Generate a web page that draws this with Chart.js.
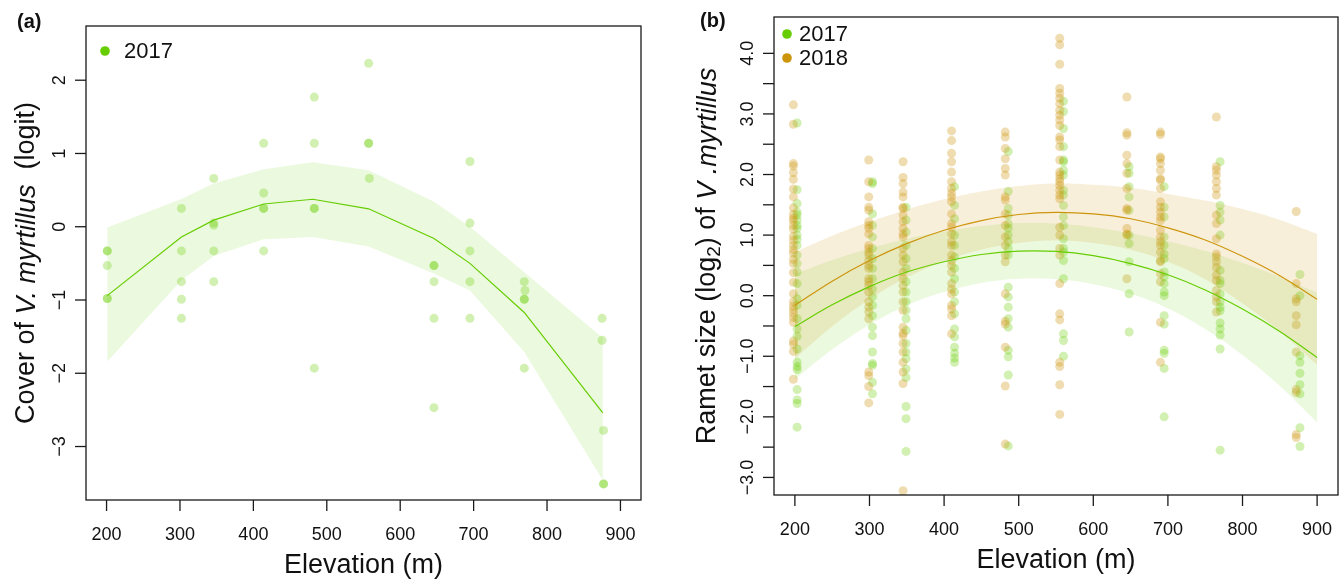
<!DOCTYPE html>
<html>
<head>
<meta charset="utf-8">
<script src="https://cdn.jsdelivr.net/npm/chart.js@4.4.1/dist/chart.umd.min.js"></script>
<style>
  html, body { margin: 0; padding: 0; background: #fff; }
  #wrap { position: relative; width: 1344px; height: 581px; }
  canvas { position: absolute; top: 0; }
</style>
</head>
<body>
<div id="wrap">
  <canvas id="chartA" width="672" height="581" style="left:0"></canvas>
  <canvas id="chartB" width="672" height="581" style="left:672px"></canvas>
</div>
<script>
const GREEN = '#66CD00';
const GOLD = '#CD950C';
const FONT = '"Liberation Sans", Arial, Helvetica, sans-serif';

const elevTicks = [200, 300, 400, 500, 600, 700, 800, 900];

// ---- panel (a): cover, 2017 ----
const coverX = [201, 201, 201, 201, 201,
                302, 302, 302, 302, 302,
                346, 346, 346, 346, 346,
                414, 414, 414, 414, 414,
                483, 483, 483, 483, 483,
                557, 557, 557, 558,
                646, 646, 646, 646, 646,
                695, 695, 695, 695, 695,
                769, 770, 769, 769, 769,
                875, 875, 877, 877, 877];
const coverY = [-0.33, -0.33, -0.53, -0.98, -0.98,
                0.25, -0.33, -0.75, -0.99, -1.25,
                0.66, 0.05, 0.02, -0.33, -0.75,
                1.14, 0.46, 0.25, 0.25, -0.33,
                1.77, 1.14, 0.25, 0.25, -1.93,
                2.23, 1.14, 1.14, 0.66,
                -0.53, -0.53, -0.75, -1.25, -2.47,
                0.89, 0.05, -0.33, -0.75, -1.25,
                -0.75, -0.87, -0.99, -0.99, -1.93,
                -1.25, -1.55, -2.78, -3.51, -3.51];
const fitElev = [201, 302, 346, 414, 481, 557, 646, 695, 769, 876];
const fitCover = [-0.94, -0.14, 0.09, 0.31, 0.375, 0.245, -0.16, -0.50, -1.17, -2.54];
const fitUpper = [-0.01, 0.38, 0.59, 0.785, 0.88, 0.77, 0.34, 0.0, -0.62, -1.52];
const fitLower = [-1.84, -0.73, -0.40, -0.17, -0.14, -0.27, -0.64, -0.87, -1.71, -3.46];
const coverTicks = [-3, -2, -1, 0, 1, 2];

// ---- panel (b): ramet size, 2017 and 2018 ----
const x2017 = [203, 304, 349, 414, 486, 560, 648, 695, 770, 877];
const x2018 = [198, 299, 345, 410, 482, 555, 645, 690, 765, 872];
const ramet2017 = [
  [2.85, 1.75, 1.52, 1.38, 1.33, 1.25, 1.16, 1.11, 1.0, 0.93, 0.83, 0.67, 0.53, 0.39, 0.2, -0.05, -0.16, -0.38, -0.55, -0.67, -0.88, -1.1, -1.17, -1.22, -1.55, -1.72, -1.78, -2.17],
  [1.88, 1.85, 1.35, 1.16, 0.97, 0.78, 0.61, 0.45, 0.28, 0.11, -0.02, -0.16, -0.33, -0.52, -0.66, -0.93, -1.12, -1.15, -1.43, -1.62],
  [1.46, 1.25, 1.05, 0.83, 0.61, 0.45, 0.23, 0.06, -0.1, -0.24, -0.38, -0.57, -0.79, -0.93, -1.04, -1.21, -1.35, -1.83, -2.03, -2.57],
  [1.8, 1.49, 1.27, 1.0, 0.83, 0.64, 0.45, 0.28, 0.06, -0.1, -0.3, -0.55, -0.68, -0.85, -0.95, -1.03, -1.1],
  [2.38, 1.72, 1.44, 1.33, 1.19, 1.11, 1.0, 0.89, 0.78, 0.67, 0.14, -0.02, -0.19, -0.38, -0.52, -0.9, -1.01, -1.31, -2.48],
  [3.21, 3.04, 2.76, 2.46, 2.24, 2.21, 2.07, 1.99, 1.74, 1.66, 1.49, 1.3, 1.16, 0.94, 0.78, 0.72, 0.58, 0.28, -0.63, -0.74, -1.0],
  [2.13, 2.02, 1.8, 1.63, 1.41, 1.0, 0.86, 0.56, 0.03, -0.6],
  [1.8, 1.46, 1.3, 0.97, 0.83, 0.69, 0.61, 0.39, 0.31, 0.2, 0.06, 0.0, -0.33, -0.47, -0.9, -0.95, -1.2, -2.0],
  [2.21, 1.49, 1.38, 1.25, 1.0, 0.42, 0.25, 0.2, 0.03, -0.1, -0.19, -0.25, -0.45, -0.55, -0.65, -0.88, -2.55],
  [0.35, 0.0, -0.99, -1.1, -1.28, -1.47, -1.62, -2.18, -2.49]
];
const ramet2018 = [
  [3.15, 2.83, 2.18, 2.14, 2.03, 1.92, 1.76, 1.63, 1.45, 1.34, 1.28, 1.24, 1.16, 1.1, 0.98, 0.91, 0.83, 0.76, 0.7, 0.6, 0.53, 0.38, 0.22, 0.03, -0.1, -0.17, -0.23, -0.29, -0.36, -0.44, -0.75, -0.8, -0.92, -1.38],
  [2.24, 1.88, 1.63, 1.46, 1.41, 1.22, 1.16, 1.11, 1.02, 0.83, 0.78, 0.72, 0.67, 0.58, 0.5, 0.45, 0.28, 0.23, 0.17, 0.06, -0.1, -0.19, -0.27, -0.38, -1.26, -1.32, -1.5, -1.77],
  [2.21, 1.95, 1.85, 1.71, 1.63, 1.46, 1.44, 1.33, 1.22, 1.11, 1.02, 0.97, 0.78, 0.67, 0.56, 0.39, 0.28, 0.17, 0.06, -0.1, -0.24, -0.52, -0.62, -0.66, -0.79, -0.93, -1.1, -1.26, -1.45, -3.22],
  [2.72, 2.56, 2.35, 2.21, 2.04, 1.88, 1.77, 1.69, 1.63, 1.55, 1.35, 1.19, 1.13, 1.02, 0.89, 0.83, 0.67, 0.58, 0.5, 0.39, 0.2, 0.11, 0.03, -0.16, -0.22, -0.33, -0.63],
  [2.7, 2.62, 2.43, 2.26, 2.1, 1.99, 1.63, 1.58, 1.35, 1.16, 0.97, 0.83, 0.67, 0.56, 0.03, -0.42, -0.47, -0.85, -1.49, -2.45],
  [4.25, 4.14, 3.82, 3.42, 3.34, 3.26, 3.17, 3.06, 2.98, 2.9, 2.81, 2.62, 2.57, 2.46, 2.24, 2.04, 1.99, 1.93, 1.88, 1.82, 1.74, 1.66, 1.6, 1.13, 1.0, 0.78, 0.67, 0.2, -0.3, -0.4, -1.1, -1.17, -1.47, -1.96],
  [3.28, 2.69, 2.65, 2.32, 2.18, 2.02, 1.77, 1.44, 1.41, 1.11, 1.02, 1.0, 0.28],
  [2.7, 2.66, 2.29, 2.26, 2.18, 2.07, 1.93, 1.91, 1.77, 1.55, 1.46, 1.38, 1.3, 1.24, 1.08, 0.97, 0.89, 0.83, 0.72, 0.58, 0.56, 0.36, 0.23, -0.44, -1.1],
  [2.95, 2.13, 2.07, 1.99, 1.88, 1.77, 1.66, 1.33, 1.19, 0.94, 0.69, 0.64, 0.56, 0.47, 0.34, 0.25, 0.09, -0.02, -0.1, -0.27],
  [1.39, 0.2, -0.05, -0.1, -0.33, -0.48, -0.93, -1.55, -1.6, -2.29, -2.34]
];
const curveElev = [200, 250, 300, 350, 400, 450, 500, 550, 600, 650, 700, 750, 800, 850, 900];
const curve2017 = [-0.51, -0.15, 0.15, 0.39, 0.56, 0.68, 0.735, 0.73, 0.66, 0.53, 0.345, 0.095, -0.22, -0.59, -1.02];
const upper2017 = [0.36, 0.59, 0.78, 0.94, 1.06, 1.15, 1.2, 1.19, 1.13, 1.03, 0.9, 0.74, 0.54, 0.31, 0.05];
const lower2017 = [-1.38, -0.89, -0.48, -0.16, 0.06, 0.21, 0.28, 0.27, 0.19, 0.03, -0.21, -0.55, -0.98, -1.49, -2.09];
const curve2018 = [-0.16, 0.24, 0.58, 0.86, 1.08, 1.24, 1.34, 1.376, 1.35, 1.27, 1.12, 0.92, 0.65, 0.33, -0.06];
const upper2018 = [0.72, 0.99, 1.22, 1.42, 1.59, 1.72, 1.81, 1.85, 1.83, 1.78, 1.68, 1.57, 1.43, 1.25, 1.02];
const lower2018 = [-1.04, -0.51, -0.06, 0.30, 0.57, 0.76, 0.87, 0.91, 0.87, 0.76, 0.56, 0.27, -0.13, -0.59, -1.14];
const rametTicks = [-3, -2.5, -2, -1.5, -1, -0.5, 0, 0.5, 1, 1.5, 2, 2.5, 3, 3.5, 4];

const pts = (xs, ys) => xs.map((x, i) => ({ x: x, y: ys[i] }));
const sitePts = (xs, groups) => groups.flatMap((vals, i) => vals.map(v => ({ x: xs[i], y: v })));
const minus = s => s.replace('-', '\u2212');

function scatter(data, color) {
  return { data: data, showLine: false, pointRadius: 4.5, pointBorderWidth: 0,
           pointBackgroundColor: color, borderColor: 'transparent', order: 3 };
}
function curve(data, color, tension) {
  return { data: data, borderColor: color, borderWidth: 1.2, pointRadius: 0,
           tension: tension, fill: false, order: 1 };
}
function band(xs, up, lo, color, tension) {
  return [
    { data: pts(xs, up), borderColor: 'transparent', pointRadius: 0, tension: tension,
      fill: '+1', backgroundColor: color, order: 2 },
    { data: pts(xs, lo), borderColor: 'transparent', pointRadius: 0, tension: tension,
      fill: false, order: 2 }
  ];
}

function decor(o) {
  return {
    id: 'decor',
    afterDraw(chart) {
      const ctx = chart.ctx, a = chart.chartArea, x = chart.scales.x, y = chart.scales.y;
      const seg = (x1, y1, x2, y2) => { ctx.beginPath(); ctx.moveTo(x1, y1); ctx.lineTo(x2, y2); ctx.stroke(); };
      ctx.save();
      ctx.strokeStyle = '#1a1a1a';
      ctx.lineWidth = 1.3;
      ctx.strokeRect(a.left, a.top, a.right - a.left, a.bottom - a.top);
      ctx.fillStyle = '#111';
      ctx.font = '18px ' + FONT;
      ctx.textAlign = 'center';
      ctx.textBaseline = 'middle';
      elevTicks.forEach(v => {
        const px = x.getPixelForValue(v);
        seg(px, a.bottom, px, a.bottom + 11);
        ctx.fillText(String(v), px, a.bottom + 35);
      });
      o.yTicks.forEach(v => {
        const py = y.getPixelForValue(v);
        seg(a.left - 11, py, a.left, py);
        const lab = o.yLabel(v);
        if (lab) {
          ctx.save();
          ctx.translate(a.left - 26, py);
          ctx.rotate(-Math.PI / 2);
          ctx.fillText(lab, 0, 0);
          ctx.restore();
        }
      });
      ctx.font = '27px ' + FONT;
      ctx.fillText('Elevation (m)', (a.left + a.right) / 2, a.bottom + 66);

      // rotated y title made of mixed-style pieces
      let total = 0;
      o.yTitle.forEach(p => { ctx.font = p.f + ' ' + FONT; p.w = ctx.measureText(p.t).width; total += p.w; });
      ctx.save();
      ctx.translate(o.titleX, (a.top + a.bottom) / 2);
      ctx.rotate(-Math.PI / 2);
      ctx.textAlign = 'left';
      let cx = -total / 2;
      o.yTitle.forEach(p => {
        ctx.font = p.f + ' ' + FONT;
        ctx.fillText(p.t, cx, p.dy || 0);
        cx += p.w;
      });
      ctx.restore();

      ctx.textAlign = 'left';
      ctx.font = 'bold 20px ' + FONT;
      ctx.fillText(o.tag, o.tagX, o.tagY);

      ctx.font = '22px ' + FONT;
      o.legend.forEach(l => {
        ctx.fillStyle = l.color;
        ctx.beginPath();
        ctx.arc(l.x, l.y, 4.8, 0, Math.PI * 2);
        ctx.fill();
        ctx.fillStyle = '#111';
        ctx.fillText(l.label, l.x + o.legendGap, l.y + 1);
      });
      ctx.restore();
    }
  };
}

function options(xh, yw, pad, ymin, ymax) {
  return {
    responsive: false,
    animation: false,
    devicePixelRatio: 1,
    layout: { padding: pad },
    plugins: { legend: { display: false }, tooltip: { enabled: false } },
    scales: {
      x: { type: 'linear', min: 172, max: 928,
           ticks: { display: false }, grid: { display: false }, border: { display: false },
           afterFit: s => { s.height = xh; } },
      y: { type: 'linear', min: ymin, max: ymax,
           ticks: { display: false }, grid: { display: false }, border: { display: false },
           afterFit: s => { s.width = yw; } }
    }
  };
}

new Chart(document.getElementById('chartA'), {
  type: 'line',
  data: {
    datasets: [
      scatter(pts(coverX, coverY), 'rgba(102,205,0,0.30)'),
      ...band(fitElev, fitUpper, fitLower, 'rgba(102,205,0,0.13)', 0),
      curve(pts(fitElev, fitCover), GREEN, 0)
    ]
  },
  options: options(81, 86, { top: 26, right: 31, left: 0, bottom: 0 }, -3.73, 2.74),
  plugins: [decor({
    yTicks: coverTicks,
    yLabel: v => minus(String(v)),
    titleX: 27,
    yTitle: [{ t: 'Cover of ', f: '27px' }, { t: 'V. myrtillus', f: 'italic 27px' }, { t: '  (logit)', f: '27px' }],
    tag: '(a)', tagX: 17, tagY: 22,
    legendGap: 19,
    legend: [{ label: '2017', color: GREEN, x: 105, y: 51 }]
  })]
});

new Chart(document.getElementById('chartB'), {
  type: 'line',
  data: {
    datasets: [
      scatter(sitePts(x2018, ramet2018), 'rgba(205,149,12,0.32)'),
      scatter(sitePts(x2017, ramet2017), 'rgba(102,205,0,0.30)'),
      ...band(curveElev, upper2018, lower2018, 'rgba(205,149,12,0.15)', 0.4),
      ...band(curveElev, upper2017, lower2017, 'rgba(102,205,0,0.13)', 0.4),
      curve(pts(curveElev, curve2018), GOLD, 0.4),
      curve(pts(curveElev, curve2017), GREEN, 0.4)
    ]
  },
  options: options(86, 102, { top: 17, right: 6, left: 0, bottom: 0 }, -3.29, 4.6),
  plugins: [decor({
    yTicks: rametTicks,
    yLabel: v => Number.isInteger(v) ? minus(v.toFixed(1)) : null,
    titleX: 36,
    yTitle: [{ t: 'Ramet size (log', f: '27px' }, { t: '2', f: '19px', dy: 7 }, { t: ') of ', f: '27px' }, { t: 'V .myrtillus', f: 'italic 27px' }],
    tag: '(b)', tagX: 28, tagY: 21,
    legendGap: 12,
    legend: [{ label: '2017', color: GREEN, x: 115, y: 34 }, { label: '2018', color: GOLD, x: 115, y: 58 }]
  })]
});
</script>
</body>
</html>
